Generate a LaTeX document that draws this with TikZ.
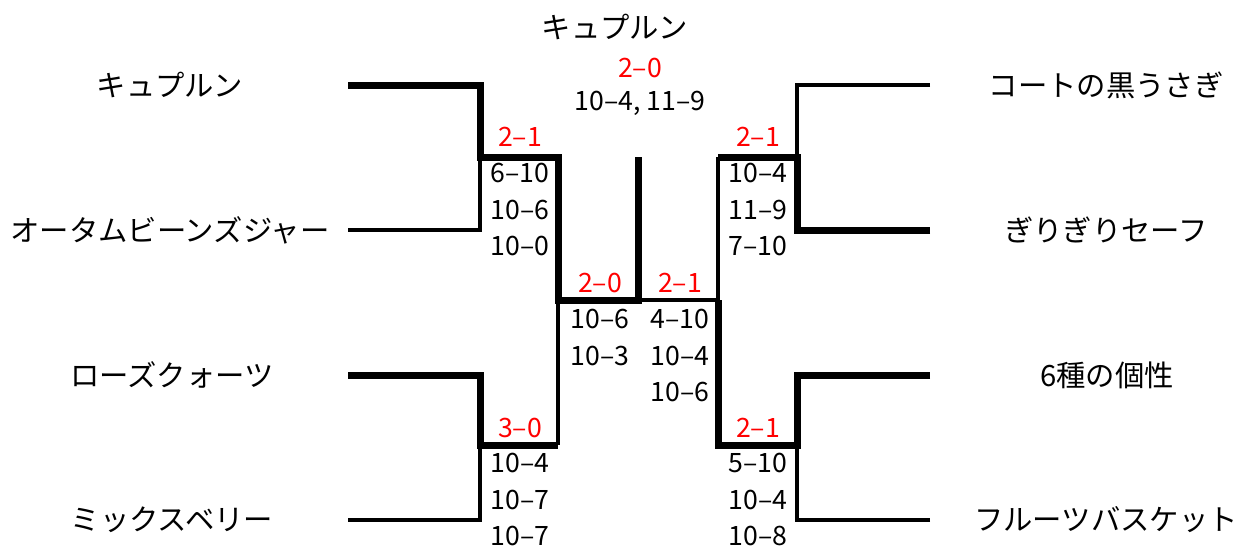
\documentclass[tikz,border=0pt]{standalone}
\usepackage{fontspec}
\setmainfont{Noto Sans CJK JP}
\usetikzlibrary{positioning}
\tikzset{
	team/.style={font=\fontsize{22}{26}\selectfont, inner sep=0pt},
	win/.style={font=\fontsize{20}{24}\selectfont, text=red, inner sep=0pt},
	sets/.style={font=\fontsize{20}{27.5}\selectfont, align=center, inner sep=0pt, anchor=north},
	winline/.style={line width=5.25pt, line join=miter},
	loseline/.style={line width=2.6pt, line join=miter}
}

\begin{document}
\begin{tikzpicture}[x=0.75pt, y=-0.75pt]
	\useasboundingbox (0,0) rectangle (1242,550);
	
	% team names
	\node[team] (t1) at (170,85) {キュプルン};
	\node[team] (t2) at (170,230) {オータムビーンズジャー};
	\node[team] (t3) at (172,375) {ローズクォーツ};
	\node[team] (t4) at (172,520) {ミックスベリー};
	\node[team] (t5) at (1106,85) {コートの黒うさぎ};
	\node[team] (t6) at (1106,230) {ぎりぎりセーフ};
	\node[team] (t7) at (1107,375) {6種の個性};
	\node[team] (t8) at (1106,520) {フルーツバスケット};
	
	% line ends and joints
	\coordinate (e1) at (348,85);
	\coordinate (e2) at (348,230);
	\coordinate (e3) at (348,375);
	\coordinate (e4) at (348,520);
	\coordinate (e5) at (930,85);
	\coordinate (e6) at (930,230);
	\coordinate (e7) at (930,375);
	\coordinate (e8) at (930,520);
	\coordinate (q1) at (480,157);
	\coordinate (q2) at (480,445);
	\coordinate (q3) at (797,157);
	\coordinate (q4) at (797,445);
	\coordinate (sl) at (558,300);
	\coordinate (sr) at (718,300);
	\coordinate (fin) at (638,157);
	
	\draw[loseline] (e2) -| (q1);
	\draw[loseline] (e4) -| (q2);
	\draw[loseline] (q2 -| sl) -- (sl);
	\draw[loseline] (e5) -| (q3);
	\draw[loseline] (e8) -| (q4);
	\draw[loseline] (q3 -| sr) -- (sr);
	\draw[loseline] (sr) -- (sr -| fin);
	
	\draw[winline] (e1) -| (q1) -| (sl) -| (fin);
	\draw[winline] (e3) -| (q2) -- (q2 -| sl);
	\draw[winline] (e6) -| (q3) -- (q3 -| sr);
	\draw[winline] (e7) -| (q4) -| (sr);
	
	% results
	\node[team] (champ) at (615,27) {キュプルン};
	\node[win] (w0) at (640,68) {2–0};
	\node[sets, anchor=center] (s0) at (640,103) {10–4, 11–9};
	
	\node[win] (w1) at (520,137) {2–1};
	\node[sets] (s1) at (520,163) {6–10\\10–6\\10–0};
	\node[win] (w2) at (520,428) {3–0};
	\node[sets] (s2) at (520,453) {10–4\\10–7\\10–7};
	\node[win] (w3) at (600,283) {2–0};
	\node[sets] (s3) at (600,309) {10–6\\10–3};
	\node[win] (w4) at (680,283) {2–1};
	\node[sets] (s4) at (680,309) {4–10\\10–4\\10–6};
	\node[win] (w5) at (758,137) {2–1};
	\node[sets] (s5) at (758,163) {10–4\\11–9\\7–10};
	\node[win] (w6) at (758,428) {2–1};
	\node[sets] (s6) at (758,453) {5–10\\10–4\\10–8};
\end{tikzpicture}
\end{document}
